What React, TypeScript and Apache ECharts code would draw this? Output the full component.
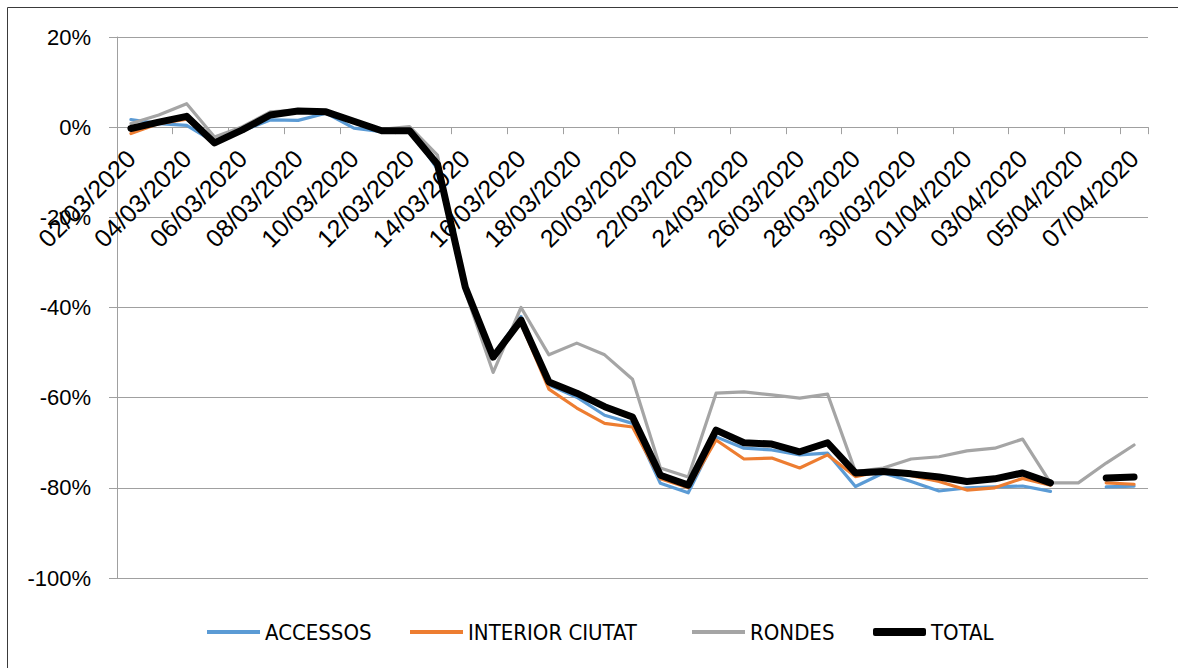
import React, { useEffect, useRef } from 'react';
import * as echarts from 'echarts';

const dates = [
  '02/03/2020', '03/03/2020', '04/03/2020', '05/03/2020', '06/03/2020', '07/03/2020',
  '08/03/2020', '09/03/2020', '10/03/2020', '11/03/2020', '12/03/2020', '13/03/2020',
  '14/03/2020', '15/03/2020', '16/03/2020', '17/03/2020', '18/03/2020', '19/03/2020',
  '20/03/2020', '21/03/2020', '22/03/2020', '23/03/2020', '24/03/2020', '25/03/2020',
  '26/03/2020', '27/03/2020', '28/03/2020', '29/03/2020', '30/03/2020', '31/03/2020',
  '01/04/2020', '02/04/2020', '03/04/2020', '04/04/2020', '05/04/2020', '06/04/2020',
  '07/04/2020',
];

const accessos = [1.7, 0.8, 0.4, -3.3, -0.8, 1.6, 1.5, 3.1, -0.2, -1.0, -0.3, -9.3, -35, -50.5, -42, -57.2, -59.9, -63.9, -65.7, -79, -81.1, -68.7, -71.2, -71.6, -72.7, -72.3, -79.7, -76.7, -78.6, -80.7, -80, -79.8, -79.6, -80.8, null, -79.8, -79.6];
const interiorCiutat = [-1.4, 0.8, 1.8, -3.5, -0.5, 2.6, 3.8, 3.3, 1.2, -0.8, -0.9, -8.0, -35.5, -50.8, -43.5, -58.1, -62.3, -65.7, -66.5, -78, -80, -69.4, -73.6, -73.4, -75.6, -72.7, -77.5, -76.2, -77.3, -78.6, -80.5, -80, -77.9, -79.4, null, -78.9, -79.2];
const rondes = [0.8, 2.7, 5.2, -2.2, 0.1, 3.4, 3.8, 3.6, 1.2, -0.5, 0.1, -6.2, -36.5, -54.4, -40, -50.5, -47.9, -50.5, -55.9, -75.6, -77.6, -59, -58.7, -59.4, -60.1, -59.2, -76.4, -75.6, -73.6, -73.1, -71.8, -71.2, -69.2, -78.9, -78.9, -74.5, -70.5];
const total = [-0.3, 1.1, 2.4, -3.5, -0.6, 2.7, 3.6, 3.4, 1.3, -0.8, -0.8, -8.2, -35.5, -51, -42.8, -56.5, -59, -62, -64.3, -77.2, -79.4, -67.2, -70, -70.3, -72, -70, -76.7, -76.4, -76.9, -77.6, -78.6, -78, -76.7, -78.9, null, -77.8, -77.6];

const yMin = -100;
const yMax = 20;
const yInterval = 20;

const seriesDefs = [
  { name: 'ACCESSOS', data: accessos, color: '#5B9BD5', width: 3.2, legendH: 4, icon: 'rect', legendLeft: 202 },
  { name: 'INTERIOR CIUTAT', data: interiorCiutat, color: '#ED7D31', width: 3.2, legendH: 4, icon: 'rect', legendLeft: 405 },
  { name: 'RONDES', data: rondes, color: '#A5A5A5', width: 3.2, legendH: 4, icon: 'rect', legendLeft: 687 },
  { name: 'TOTAL', data: total, color: '#000000', width: 7, legendH: 8, icon: 'roundRect', legendLeft: 868 },
];

const gridColor = '#A0A0A0';
const axisFont = "'Liberation Sans', Arial, sans-serif";
const legendFont = "'DejaVu Sans Condensed', 'Liberation Sans Narrow', 'Liberation Sans', sans-serif";

const PLOT_TOP = 37;
const PLOT_BOTTOM = 578;
const ZERO_Y = PLOT_TOP + ((PLOT_BOTTOM - PLOT_TOP) * yMax) / (yMax - yMin);

export default function App() {
  const ref = useRef<HTMLDivElement>(null);
  useEffect(() => {
    const chart = echarts.init(ref.current!, null, { renderer: 'svg' });
    chart.setOption({
      animation: false,
      backgroundColor: '#ffffff',
      grid: [
        { left: 117, right: 30, top: PLOT_TOP, height: PLOT_BOTTOM - PLOT_TOP, containLabel: false, outerBoundsMode: 'none' },
        { left: 117, right: 30, top: PLOT_TOP, height: ZERO_Y - PLOT_TOP, containLabel: false, outerBoundsMode: 'none' },
      ],
      graphic: [
        {
          type: 'rect',
          shape: { x: 7.5, y: 7.5, width: 1200, height: 700 },
          style: { fill: 'none', stroke: '#3a3a3a', lineWidth: 1 },
          silent: true,
        },
      ],
      legend: seriesDefs.map((s) => ({
        data: [s.name],
        left: s.legendLeft,
        top: 616,
        icon: s.icon,
        itemWidth: 53,
        itemHeight: s.legendH,
        itemGap: 0,
        selectedMode: false,
        textStyle: { fontFamily: legendFont, fontSize: 22, color: '#000', padding: [0, 0, 0, 0] },
      })),
      xAxis: [
        {
          type: 'category',
          gridIndex: 0,
          data: dates,
          boundaryGap: true,
          axisLine: { show: true, onZero: true, lineStyle: { color: gridColor, width: 1 } },
          axisTick: { show: true, interval: 1, length: 7, inside: false, lineStyle: { color: gridColor } },
          axisLabel: { show: false },
          splitLine: { show: false },
        },
        {
          type: 'category',
          gridIndex: 1,
          data: dates,
          boundaryGap: true,
          axisLine: { show: false },
          axisTick: { show: false },
          axisLabel: {
            interval: 1,
            rotate: 45,
            margin: 27,
            fontFamily: axisFont,
            fontSize: 25,
            color: '#000',
          },
          splitLine: { show: false },
        },
      ],
      yAxis: [
        {
          type: 'value',
          gridIndex: 0,
          min: yMin,
          max: yMax,
          interval: yInterval,
          axisLine: { show: true, lineStyle: { color: gridColor, width: 1 } },
          axisTick: { show: true, length: 8, lineStyle: { color: gridColor } },
          axisLabel: {
            formatter: (v: number) => `${v}%`,
            margin: 26,
            fontFamily: axisFont,
            fontSize: 22,
            color: '#000',
          },
          splitLine: { show: true, lineStyle: { color: gridColor, width: 1 } },
        },
        { type: 'value', gridIndex: 1, show: false, min: 0, max: 1 },
      ],
      series: seriesDefs.map((s) => ({
        name: s.name,
        type: 'line',
        xAxisIndex: 0,
        yAxisIndex: 0,
        data: s.data,
        color: s.color,
        itemStyle: { color: s.color },
        symbol: 'none',
        showSymbol: false,
        connectNulls: false,
        lineStyle: { color: s.color, width: s.width, cap: 'round', join: 'round' },
        emphasis: { disabled: true },
      })),
    });
    return () => chart.dispose();
  }, []);
  return (
    <div
      ref={ref}
      style={{ position: 'fixed', left: 0, top: 0, width: 1178, height: 668, background: '#fff' }}
    />
  );
}
